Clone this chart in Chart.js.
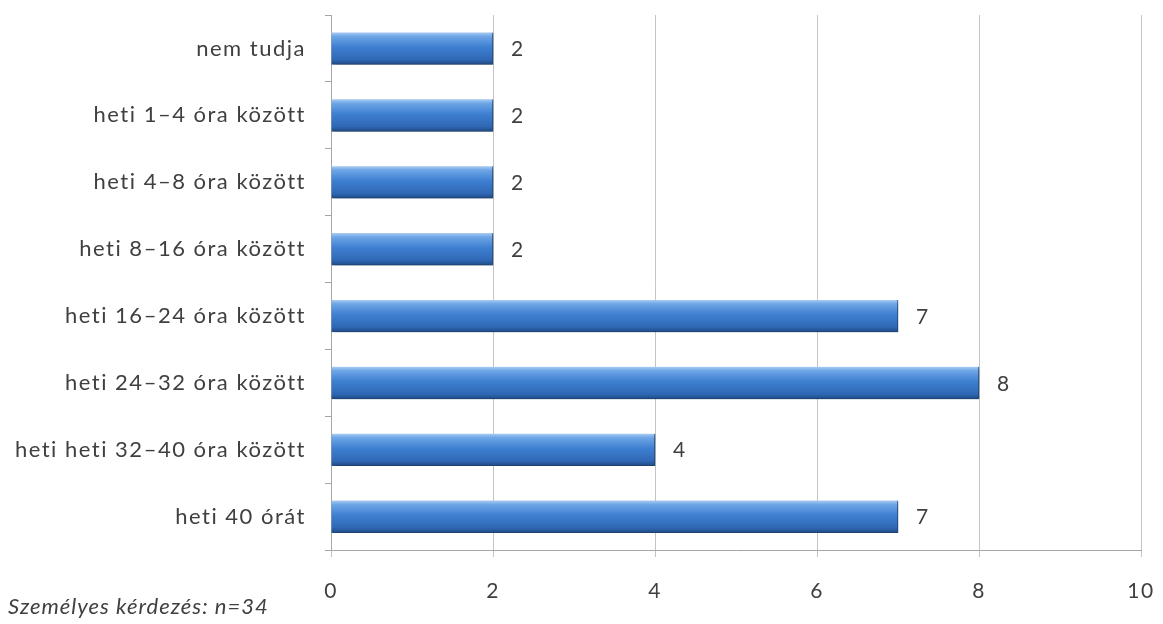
<!DOCTYPE html>
<html>
<head>
<meta charset="utf-8">
<script src="https://cdn.jsdelivr.net/npm/chart.js@4/dist/chart.umd.min.js"></script>
<style>
  html, body { margin: 0; padding: 0; background: #fff; }
  #wrap { position: relative; width: 1163px; height: 624px; }
  #labjegyzet {
    position: absolute; left: 8px; top: 592px;
    font: italic 22px Lato, "Open Sans", sans-serif;
    letter-spacing: 1px; color: #404040; white-space: nowrap;
  }
</style>
</head>
<body>
<div id="wrap">
  <canvas id="grafico"></canvas>
  <div id="labjegyzet"></div>
</div>
<script>
// Kategóriák és értékek
const kategoriak = [
    'nem tudja',
    'heti 1\u20134 óra között',
    'heti 4\u20138 óra között',
    'heti 8\u201316 óra között',
    'heti 16\u201324 óra között',
    'heti 24\u201332 óra között',
    'heti heti 32\u201340 óra között',
    'heti 40 órát'
];
const ertekek = [2, 2, 2, 2, 7, 8, 4, 7];
const xMin = 0;
const xMax = 10;
const xLepes = 2;
const labjegyzet = 'Személyes kérdezés: n=34';

const szovegSzin = '#404040';
const betu = 'Lato, "Open Sans", sans-serif';

document.getElementById('labjegyzet').textContent = labjegyzet;

// Függőleges színátmenet minden oszlopra
function oszlopSzin(context) {
    const chart = context.chart;
    const { ctx, chartArea, scales } = chart;
    if (!chartArea || !scales.y) return '#3b7bcd';
    const yc = scales.y.getPixelForValue(context.dataIndex);
    const g = ctx.createLinearGradient(0, yc - 16, 0, yc + 16);
    g.addColorStop(0, '#a9cdf4');
    g.addColorStop(0.12, '#6fa6e6');
    g.addColorStop(0.45, '#3f80d2');
    g.addColorStop(0.85, '#2f68b4');
    g.addColorStop(1, '#1f4b86');
    return g;
}

// Kicsit ritkított betűk, mint az eredetin
const betukoz = {
    id: 'betukoz',
    beforeDraw(chart) {
        chart.ctx.letterSpacing = '1.5px';
    }
};

// Árnyék az oszlopok alá
const arnyek = {
    id: 'arnyek',
    beforeDatasetsDraw(chart) {
        const ctx = chart.ctx;
        ctx.save();
        ctx.shadowColor = 'rgba(0,0,0,0.35)';
        ctx.shadowBlur = 4;
        ctx.shadowOffsetX = 2;
        ctx.shadowOffsetY = 2;
    },
    afterDatasetsDraw(chart) {
        chart.ctx.restore();
    }
};

// Értékcímkék az oszlopok mellett
const ertekCimkek = {
    id: 'ertekCimkek',
    afterDatasetsDraw(chart) {
        const ctx = chart.ctx;
        const meta = chart.getDatasetMeta(0);
        ctx.save();
        ctx.font = '21px ' + betu;
        ctx.fillStyle = szovegSzin;
        ctx.textAlign = 'left';
        ctx.textBaseline = 'middle';
        meta.data.forEach((bar, i) => {
            ctx.fillText(String(ertekek[i]), bar.x + 18, bar.y + 1);
        });
        ctx.restore();
    }
};

const ctx = document.getElementById('grafico').getContext('2d');
new Chart(ctx, {
    type: 'bar',
    data: {
        labels: kategoriak,
        datasets: [{
            data: ertekek,
            backgroundColor: oszlopSzin,
            borderColor: '#2a5a98',
            borderWidth: { top: 0, left: 0, right: 1, bottom: 1 },
            borderSkipped: false,
            barThickness: 32
        }]
    },
    options: {
        indexAxis: 'y',
        responsive: true,
        maintainAspectRatio: false,
        animation: false,
        layout: { padding: { top: 15, right: 22, left: 8, bottom: 0 } },
        scales: {
            x: {
                min: xMin,
                max: xMax,
                afterFit(scale) {
                    scale.height = 74;
                    scale.paddingLeft = 0;
                    scale.paddingRight = 0;
                },
                ticks: {
                    stepSize: xLepes,
                    color: szovegSzin,
                    font: { family: betu, size: 21 },
                    padding: 22
                },
                grid: {
                    color: '#c4c4c4',
                    lineWidth: 1,
                    drawTicks: true,
                    tickLength: 7
                },
                border: { color: '#a6a6a6' }
            },
            y: {
                afterFit(scale) {
                    scale.width = 323;
                    scale.paddingTop = 0;
                    scale.paddingBottom = 0;
                },
                ticks: {
                    color: szovegSzin,
                    font: { family: betu, size: 22 },
                    padding: 19
                },
                grid: {
                    offset: true,
                    drawOnChartArea: false,
                    drawTicks: true,
                    tickLength: 6,
                    color: '#a6a6a6'
                },
                border: { color: '#a6a6a6' }
            }
        },
        plugins: {
            legend: { display: false },
            tooltip: { enabled: false }
        }
    },
    plugins: [betukoz, arnyek, ertekCimkek]
});
</script>
</body>
</html>
